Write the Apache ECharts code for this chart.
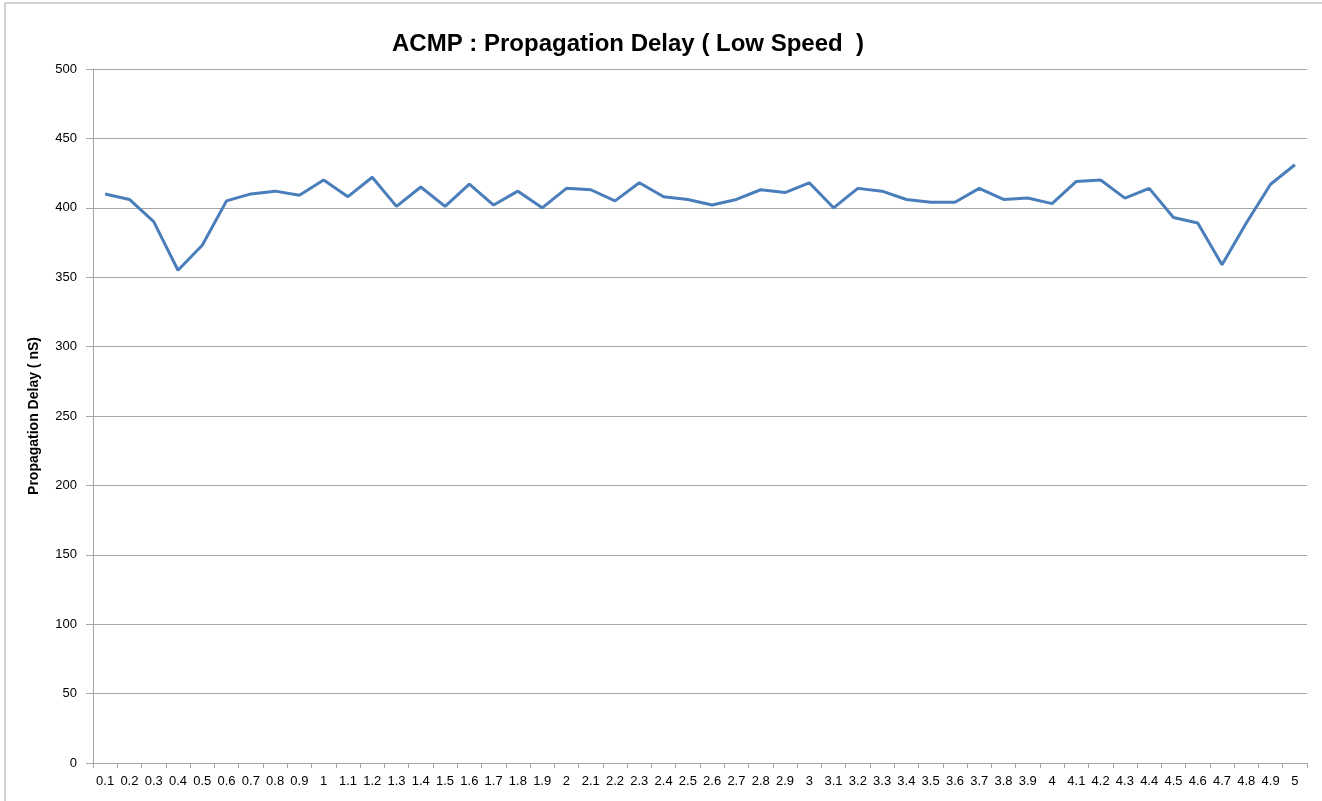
<!DOCTYPE html>
<html>
<head>
<meta charset="utf-8">
<title>ACMP : Propagation Delay ( Low Speed )</title>
<script src="https://cdn.jsdelivr.net/npm/echarts@6/dist/echarts.min.js"></script>
<style>
  html, body { margin: 0; padding: 0; background: #fff; }
  #main { width: 1322px; height: 801px; }
</style>
</head>
<body>
<div id="main"></div>
<script>
var speeds = ['0.1','0.2','0.3','0.4','0.5','0.6','0.7','0.8','0.9','1',
  '1.1','1.2','1.3','1.4','1.5','1.6','1.7','1.8','1.9','2',
  '2.1','2.2','2.3','2.4','2.5','2.6','2.7','2.8','2.9','3',
  '3.1','3.2','3.3','3.4','3.5','3.6','3.7','3.8','3.9','4',
  '4.1','4.2','4.3','4.4','4.5','4.6','4.7','4.8','4.9','5'];

var delay = [410, 406, 390, 355, 373, 405, 410, 412, 409, 420,
  408, 422, 401, 415, 401, 417, 402, 412, 400, 414,
  413, 405, 418, 408, 406, 402, 406, 413, 411, 418,
  400, 414, 412, 406, 404, 404, 414, 406, 407, 403,
  419, 420, 407, 414, 393, 389, 359, 389, 417, 431];

var chartTitle = 'ACMP : Propagation Delay ( Low Speed  )';
var yName = 'Propagation Delay ( nS)';

var myChart = echarts.init(document.getElementById('main'));

var option = {
  backgroundColor: '#fff',
  animation: false,
  title: {
    text: chartTitle,
    left: 387,
    top: 27,
    textStyle: {
      fontFamily: '"Liberation Sans Narrow", "Liberation Sans", Arial, sans-serif',
      fontSize: 24,
      fontWeight: 'bold',
      color: '#000'
    }
  },
  graphic: [{
    type: 'rect',
    shape: { x: 5, y: 3, width: 1330, height: 820 },
    style: { fill: 'none', stroke: '#a6a6a6', lineWidth: 1 },
    silent: true
  }],
  grid: {
    left: 93,
    right: 15,
    top: 69,
    bottom: 38,
    containLabel: false
  },
  xAxis: {
    type: 'category',
    data: speeds,
    boundaryGap: true,
    axisLine: { lineStyle: { color: '#a6a6a6', width: 1 } },
    axisTick: { show: true, alignWithLabel: false, length: 5, lineStyle: { color: '#a6a6a6' } },
    axisLabel: {
      interval: 0,
      color: '#000',
      fontSize: 13,
      margin: 12,
      fontFamily: '"Liberation Sans", Arial, sans-serif'
    },
    splitLine: { show: false }
  },
  yAxis: {
    type: 'value',
    min: 0,
    max: 500,
    interval: 50,
    name: yName,
    nameLocation: 'middle',
    nameGap: 52,
    nameTextStyle: {
      color: '#000',
      fontSize: 14,
      fontWeight: 'bold',
      fontFamily: '"Liberation Sans Narrow", "Liberation Sans", Arial, sans-serif'
    },
    axisLine: { show: true, lineStyle: { color: '#a6a6a6', width: 1 } },
    axisTick: { show: true, length: 7, lineStyle: { color: '#a6a6a6' } },
    axisLabel: {
      color: '#000',
      fontSize: 13,
      margin: 16,
      fontFamily: '"Liberation Sans", Arial, sans-serif'
    },
    splitLine: { show: true, lineStyle: { color: '#a6a6a6', width: 1 } }
  },
  series: [{
    name: 'Propagation Delay',
    type: 'line',
    data: delay,
    showSymbol: false,
    symbol: 'none',
    lineStyle: { color: '#4a7ebb', width: 3 },
    itemStyle: { color: '#4a7ebb' }
  }]
};

myChart.setOption(option);
</script>
</body>
</html>
